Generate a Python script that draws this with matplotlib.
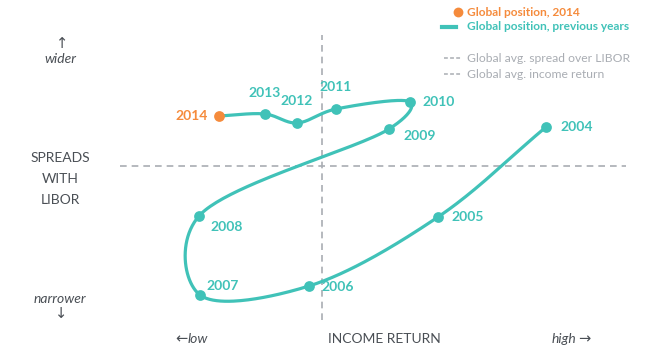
import numpy as np
import matplotlib
matplotlib.use("Agg")
import matplotlib.pyplot as plt

plt.rcParams['font.family'] = ['Lato', 'DejaVu Sans']

years = [2004, 2005, 2006, 2007, 2008, 2009, 2010, 2011, 2012, 2013, 2014]
income_return = [4.48, 2.32, -0.26, -2.44, -2.46, 1.34, 1.76, 0.28, -0.50, -1.14, -2.06]
spread = [1.56, -2.04, -4.80, -5.16, -2.00, 1.48, 2.56, 2.28, 1.72, 2.08, 2.00]
avg_income = 0.0
avg_spread = 0.0

TEAL = '#40C2B8'
ORANGE = '#F58B3C'
GREY = '#A9ADB3'
DARK = '#4A4F55'

# label offsets in pixels (dx, dy, ha)
offsets = {
    2004: (14, 0, 'left'), 2005: (13, 0, 'left'), 2006: (12, -1, 'left'),
    2007: (6, 9, 'left'), 2008: (11, -11, 'left'), 2009: (14, -7, 'left'),
    2010: (12, 0, 'left'), 2011: (0, 22, 'center'), 2012: (0, 22, 'center'),
    2013: (0, 21, 'center'), 2014: (-11, 0, 'right'),
}


def catmull_rom(xs, ys, sx=50.0, sy=25.0, n=50, alpha=0.25):
    pts = np.column_stack([np.asarray(xs) * sx, np.asarray(ys) * sy])
    P = np.vstack([2 * pts[0] - pts[1], pts, 2 * pts[-1] - pts[-2]])
    out = []
    for i in range(1, len(P) - 2):
        p0, p1, p2, p3 = P[i - 1], P[i], P[i + 1], P[i + 2]
        t0 = 0.0
        t1 = t0 + np.linalg.norm(p1 - p0) ** alpha
        t2 = t1 + np.linalg.norm(p2 - p1) ** alpha
        t3 = t2 + np.linalg.norm(p3 - p2) ** alpha
        t = np.linspace(t1, t2, n)[:, None]
        A1 = (t1 - t) / (t1 - t0) * p0 + (t - t0) / (t1 - t0) * p1
        A2 = (t2 - t) / (t2 - t1) * p1 + (t - t1) / (t2 - t1) * p2
        A3 = (t3 - t) / (t3 - t2) * p2 + (t - t2) / (t3 - t2) * p3
        B1 = (t2 - t) / (t2 - t0) * A1 + (t - t0) / (t2 - t0) * A2
        B2 = (t3 - t) / (t3 - t1) * A2 + (t - t1) / (t3 - t1) * A3
        C = (t2 - t) / (t2 - t1) * B1 + (t - t1) / (t2 - t1) * B2
        out.append(C)
    out = np.vstack(out)
    return out[:, 0] / sx, out[:, 1] / sy


fig = plt.figure(figsize=(6.59, 3.57), dpi=100)
ax = fig.add_axes([0, 0, 1, 1])
ax.set_xlim(-6.44, 6.74)
ax.set_ylim(-7.64, 6.64)
ax.axis('off')

# reference lines
ax.plot([-4.04, 6.08], [avg_spread, avg_spread], color=GREY, lw=1.2, ls=(0, (4, 3)), zorder=1)
ax.plot([avg_income, avg_income], [-6.16, 5.24], color=GREY, lw=1.2, ls=(0, (4, 3)), zorder=1)

# curve
cx, cy = catmull_rom(income_return, spread)
ax.plot(cx, cy, color=TEAL, lw=2.3, solid_capstyle='round', zorder=2)
ax.scatter(income_return[:-1], spread[:-1], s=60, color=TEAL, zorder=3, linewidths=0)
ax.scatter(income_return[-1:], spread[-1:], s=60, color=ORANGE, zorder=3, linewidths=0)

for yr, x, y in zip(years, income_return, spread):
    dx, dy, ha = offsets[yr]
    ax.annotate(str(yr), (x, y), xytext=(dx, dy), textcoords='offset pixels',
                ha=ha, va='center', fontsize=10, fontweight='bold',
                color=ORANGE if yr == 2014 else TEAL)

T = ax.transAxes
def px(x, y):
    return x / 659, 1 - y / 357

AR = ['DejaVu Sans']
# axis annotations
ax.text(*px(62, 43), '\u2191', transform=T, ha='center', va='center', fontsize=10.5, color=DARK, family=AR)
ax.text(*px(60, 59), 'wider', transform=T, ha='center', va='center', fontsize=10, color=DARK, style='italic')
for txt, yy in [('SPREADS', 158), ('WITH', 179), ('LIBOR', 200)]:
    ax.text(*px(60, yy), txt, transform=T, ha='center', va='center', fontsize=10, color=DARK)
ax.text(*px(60, 299), 'narrower', transform=T, ha='center', va='center', fontsize=10, color=DARK, style='italic')
ax.text(*px(61, 314), '\u2193', transform=T, ha='center', va='center', fontsize=10.5, color=DARK, family=AR)
ax.text(*px(188, 339), '\u2190', transform=T, ha='right', va='center', fontsize=10.5, color=DARK, family=AR)
ax.text(*px(188, 339), 'low', transform=T, ha='left', va='center', fontsize=10, color=DARK, style='italic')
ax.text(*px(384, 339), 'INCOME RETURN', transform=T, ha='center', va='center', fontsize=10, color=DARK)
ax.text(*px(576, 339), 'high', transform=T, ha='right', va='center', fontsize=10, color=DARK, style='italic')
ax.text(*px(578, 339), '\u2192', transform=T, ha='left', va='center', fontsize=10.5, color=DARK, family=AR)

# legend
ax.scatter([458 / 659], [1 - 12 / 357], s=50, color=ORANGE, transform=T, linewidths=0)
ax.text(*px(467, 12), 'Global position, 2014', transform=T, ha='left', va='center',
        fontsize=8.6, fontweight='bold', color=ORANGE)
ax.plot([442 / 659, 456 / 659], [1 - 27 / 357] * 2, color=TEAL, lw=3, transform=T)
ax.text(*px(467, 27), 'Global position, previous years', transform=T, ha='left', va='center',
        fontsize=8.6, fontweight='bold', color=TEAL)
for yy, txt in [(58, 'Global avg. spread over LIBOR'), (74, 'Global avg. income return')]:
    ax.plot([444 / 659, 461 / 659], [1 - yy / 357] * 2, color=GREY, lw=1.1, ls=(0, (2.5, 1.5)), transform=T)
    ax.text(*px(467, yy), txt, transform=T, ha='left', va='center', fontsize=8.7, color=GREY)

fig.savefig('out.png', dpi=100)
